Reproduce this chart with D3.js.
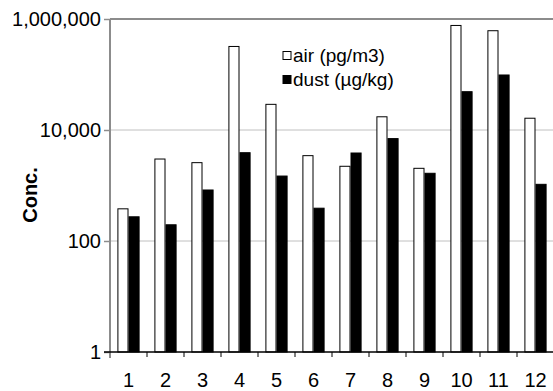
<!DOCTYPE html>
<html><head><meta charset="utf-8">
<script src="https://cdn.jsdelivr.net/npm/d3@7"></script>
<style>body{margin:0;background:#fff}svg{display:block}text{font-family:"Liberation Sans",Arial,sans-serif}</style>
</head><body>
<svg id="c" width="553" height="391"></svg>
<script>
const categories = ["1","2","3","4","5","6","7","8","9","10","11","12"];
const seriesNames = ["air (pg/m3)", "dust (µg/kg)"];
const airValues  = [380, 3000, 2580, 320000, 29000, 3450, 2220, 17300, 2040, 765000, 615000, 16300];
const dustValues = [273, 196, 830, 3900, 1480, 390, 3850, 7000, 1660, 49000, 98000, 1050];
const yTicks = [1, 100, 10000, 1000000];
const seriesFill = ["#ffffff", "#000000"];

const svg = d3.select("#c");
const L = 110, R = 554, T = 19, B = 352;
const x0 = d3.scaleBand().domain(categories).range([L, R]).paddingInner(0.4).paddingOuter(0.2);
const x1 = d3.scaleBand().domain([0,1]).range([0, x0.bandwidth()]);
const y = d3.scaleLog().domain([1, 1000000]).range([B, T]);
const fmt = d3.format(",");

// gridlines
svg.append("g").selectAll("line").data(yTicks.slice(1, -1)).join("line")
  .attr("x1", L).attr("x2", R).attr("y1", d => y(d)).attr("y2", d => y(d))
  .attr("stroke", "#c0c0c0").attr("stroke-width", 1);
// top border
svg.append("line").attr("x1", L).attr("x2", R).attr("y1", y(1000000)).attr("y2", y(1000000))
  .attr("stroke", "#8c8c8c").attr("stroke-width", 2);

// bars
const data = categories.map((c, i) => ({c, vals: [airValues[i], dustValues[i]]}));
const g = svg.append("g");
data.forEach(d => {
  d.vals.forEach((v, s) => {
    g.append("rect")
      .attr("x", x0(d.c) + x1(s) + 0.5)
      .attr("y", y(v))
      .attr("width", x1.bandwidth() - 1)
      .attr("height", B - y(v))
      .attr("fill", seriesFill[s])
      .attr("stroke", "#000").attr("stroke-width", 1);
  });
});

// y axis
const yAxis = d3.axisLeft(y).tickValues(yTicks).tickFormat(fmt).tickSize(6).tickPadding(3);
const ya = svg.append("g").attr("transform", `translate(${L},0)`).call(yAxis);
ya.select(".domain").attr("stroke", "#8c8c8c").attr("stroke-width", 2).attr("d", `M0,${T}V${B+6}`);
ya.selectAll(".tick line").attr("stroke", "#8c8c8c").attr("stroke-width", 1.5);
ya.selectAll("text").attr("font-size", 20).attr("fill", "#000").attr("font-family", "Liberation Sans, Arial, sans-serif");

// x axis
const bounds = categories.map(c => x0(c) - x0.step() * x0.paddingInner() / 2);
const xa = svg.append("g");
xa.append("line").attr("x1", L - 6).attr("x2", R).attr("y1", B).attr("y2", B).attr("stroke", "#000").attr("stroke-width", 1.5);
xa.selectAll("line.t").data(bounds.slice(1)).join("line").attr("class","t")
  .attr("x1", d => d).attr("x2", d => d).attr("y1", B).attr("y2", B + 5)
  .attr("stroke", "#000").attr("stroke-width", 1);
xa.selectAll("text").data(categories).join("text")
  .attr("x", d => x0(d) + x0.bandwidth() / 2).attr("y", 386.5)
  .attr("text-anchor", "middle").attr("font-size", 20).text(d => d);

// y label
svg.append("text").attr("transform", "translate(37,195) rotate(-90)")
  .attr("text-anchor", "middle").attr("font-size", 20).attr("font-weight", "bold").text("Conc.");

// legend
const lg = svg.append("g");
seriesNames.forEach((n, i) => {
  const top = 51.5 + i * 24;
  lg.append("rect").attr("x", 283).attr("y", top).attr("width", 8).attr("height", 8)
    .attr("fill", seriesFill[i]).attr("stroke", "#000").attr("stroke-width", 1);
  lg.append("text").attr("x", 293).attr("y", top + 10.5).attr("font-size", 19).text(n);
});
</script>
</body></html>
